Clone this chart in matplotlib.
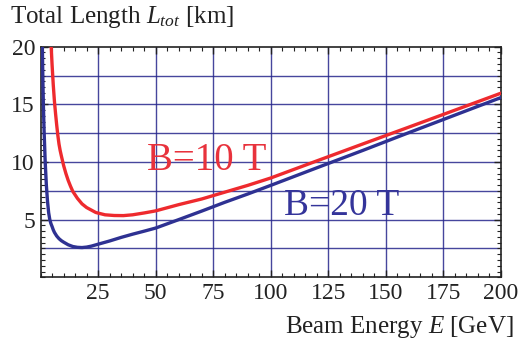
import matplotlib
matplotlib.use("Agg")
import matplotlib.pyplot as plt
from matplotlib.ticker import MultipleLocator, FixedLocator

plt.rcParams['font.family'] = ['Liberation Serif', 'DejaVu Serif']
plt.rcParams['mathtext.fontset'] = 'custom'
plt.rcParams['mathtext.rm'] = 'Liberation Serif'
plt.rcParams['mathtext.it'] = 'Liberation Serif:italic'

# Data
energy_red = [4.5, 5, 5.5, 6, 6.5, 7, 7.5, 8, 8.5, 9, 10, 11, 12, 13, 14, 16, 18, 20, 24, 28,
              32, 36, 40, 45, 50, 60, 70, 80, 90, 100, 120, 140, 160, 180, 200]
length_red = [20.4, 18.4, 16.7, 15.3, 14.2, 13.2, 12.3, 11.55, 11.0, 10.55, 9.7, 9.0, 8.4,
              7.9, 7.45, 6.85, 6.37, 6.05, 5.62, 5.42, 5.36, 5.35, 5.42, 5.58, 5.76, 6.3, 6.79,
              7.38, 7.97, 8.61, 10.09, 11.56, 13.02, 14.49, 15.96]
energy_blue = [0.7, 0.8, 1.0, 1.2, 1.5, 2.0, 2.5, 3.0, 3.5, 4.0, 4.5, 5, 5.5, 6, 7, 8, 9, 10,
               12, 14, 16, 18, 20, 22, 25, 30, 35, 40, 45, 50, 60, 70, 80, 90, 100, 120, 140,
               160, 180, 200]
length_blue = [21.0, 19.5, 17.0, 15.0, 12.8, 10.0, 8.0, 6.6, 5.6, 5.0, 4.65, 4.4, 4.12, 3.9,
               3.58, 3.35, 3.18, 3.05, 2.82, 2.67, 2.6, 2.58, 2.62, 2.7, 2.87, 3.15, 3.46, 3.74,
               4.0, 4.27, 5.0, 5.74, 6.5, 7.22, 7.97, 9.49, 11.0, 12.54, 14.06, 15.58]
x_ticks = [25, 50, 75, 100, 125, 150, 175, 200]
y_ticks = [5, 10, 15, 20]
label_red = "B=10 T"
label_blue = "B=20 T"

red = '#ee2a2e'
blue = '#2e3192'
grid_c = '#26268c'

fig = plt.figure(figsize=(5.25, 3.43), dpi=100)
ax = fig.add_axes([40.6 / 525, 1 - 277.3 / 343, (500.7 - 40.6) / 525, (277.3 - 46.7) / 343])

ax.set_xlim(0, 200)
ax.set_ylim(0, 20)

for xv in [25, 50, 75, 100, 125, 150, 175]:
    ax.axvline(xv, color=grid_c, lw=1.0, alpha=0.85, zorder=1)
for yv in [2.5, 5, 7.5, 10, 12.5, 15, 17.5]:
    ax.axhline(yv, color=grid_c, lw=1.0, alpha=0.85, zorder=1)

ax.plot(energy_red, length_red, color=red, lw=2.4, zorder=3, clip_on=True,
        solid_joinstyle='round')
ax.plot(energy_blue, length_blue, color=blue, lw=2.4, zorder=3, clip_on=True,
        solid_joinstyle='round')

ax.text(46.2, 9.3, label_red, color='#e8323c', fontsize=28, va='baseline', ha='left', zorder=4)
ax.text(106, 5.4, label_blue, color='#34349a', fontsize=27, va='baseline', ha='left', zorder=4)

ax.xaxis.set_major_locator(FixedLocator(x_ticks))
ax.xaxis.set_minor_locator(MultipleLocator(5))
ax.yaxis.set_major_locator(FixedLocator(y_ticks))
ax.yaxis.set_minor_locator(MultipleLocator(0.5))
ax.tick_params(which='both', direction='in', top=True, right=True, color='#222222')
ax.tick_params(which='major', length=5, width=1.0, labelsize=17, labelcolor='#222222', pad=4)
ax.tick_params(which='minor', length=3, width=0.8)
for s in ax.spines.values():
    s.set_color('#222222')
    s.set_linewidth(1.2)

fig.text(10 / 525, 1 - 23 / 343, r"Total Length $L_{tot}$ [km]", fontsize=18,
         color='#222222', ha='left', va='baseline')
fig.text(514 / 525, 1 - 333 / 343, r"Beam Energy $E$ [GeV]", fontsize=18,
         color='#222222', ha='right', va='baseline')

fig.savefig('out.png', dpi=100)
